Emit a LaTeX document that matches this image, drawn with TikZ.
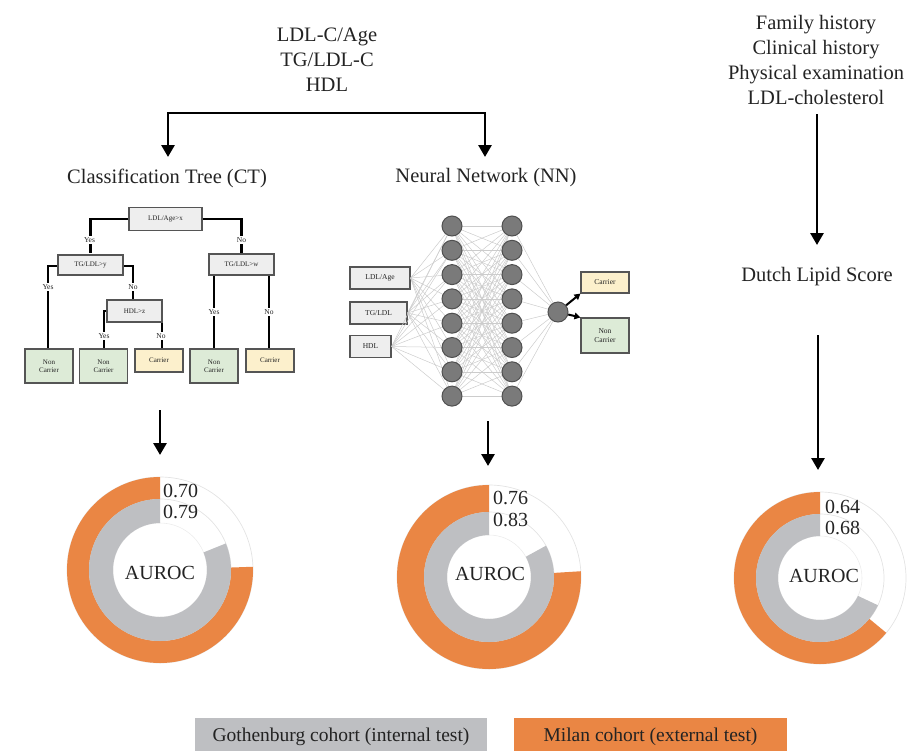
\documentclass[tikz,border=0pt]{standalone}
\usepackage{fontspec}
\setmainfont{Liberation Serif}
\usetikzlibrary{arrows.meta}
\definecolor{orng}{RGB}{234,134,68}
\definecolor{ringgray}{RGB}{190,191,194}
\definecolor{leafgreen}{RGB}{221,235,215}
\definecolor{leafyellow}{RGB}{252,240,204}
\definecolor{boxgray}{RGB}{238,238,238}
\definecolor{edgegray}{RGB}{85,85,85}
\definecolor{nodegray}{RGB}{122,122,122}
\definecolor{nodeedge}{RGB}{80,80,80}
\definecolor{txt}{RGB}{35,35,35}
\newcommand\ringseg[7]{%
  \fill[#7] ({#1+#4*cos(#5)},{#2+#4*sin(#5)}) arc[start angle=#5,end angle=#6,radius=#4]
    -- ({#1+#3*cos(#6)},{#2+#3*sin(#6)}) arc[start angle=#6,end angle=#5,radius=#3] -- cycle;}
\newcommand\mydonut[7]{% cx cy R rg ri orange-end gray-end
  \draw[gray!22, line width=0.7pt] (#1,#2) circle[radius=#3];
  \draw[gray!22, line width=0.7pt] (#1,#2) circle[radius=#4];
  \draw[gray!15, line width=0.6pt] (#1,#2) circle[radius=#5];
  \ringseg{#1}{#2}{#4}{#3}{90}{#6}{orng}
  \ringseg{#1}{#2}{#5}{#4}{90}{#7}{ringgray}}
\begin{document}
\begin{tikzpicture}[x=1pt,y=1pt,
  bigtxt/.style={font=\fontsize{20.5}{25}\selectfont, text=txt, align=center, inner sep=0pt},
  flowarr/.style={line width=2.8pt, line join=miter, -{Triangle[length=12pt,width=13pt]}},
  treebox/.style={draw=edgegray, line width=1.1pt, fill=boxgray, text=txt,
     font=\fontsize{7}{8}\selectfont, inner sep=0pt},
  leafg/.style={treebox, fill=leafgreen, align=center, minimum width=48pt, minimum height=34pt},
  leafy/.style={treebox, fill=leafyellow, minimum width=48pt, minimum height=23pt},
  tline/.style={line width=2.4pt, black},
  lab/.style={fill=white, text=txt, font=\fontsize{7.5}{8}\selectfont, inner sep=1.2pt},
  nnin/.style={treebox, font=\fontsize{7.5}{8}\selectfont, minimum height=22pt},
  nncirc/.style={circle, draw=nodeedge, line width=1pt, fill=nodegray, minimum size=20pt, inner sep=0pt},
  nnline/.style={gray!40, line width=0.5pt},
  nnarr/.style={line width=2pt, -{Triangle[length=6pt,width=6.5pt]}},
  dnum/.style={font=\fontsize{20}{22}\selectfont, text=txt, inner sep=0pt, anchor=west},
  auroc/.style={font=\fontsize{20}{22}\selectfont, text=txt, inner sep=0pt},
  legbox/.style={font=\fontsize{19.5}{22}\selectfont, text=txt, inner sep=0pt, minimum height=38pt}
]
\useasboundingbox (0,0) rectangle (907,-750);

% ---------- top inputs ----------
\node[bigtxt] (inputs) at (327,-60) {LDL-C/Age\\TG/LDL-C\\HDL};
\node[bigtxt] (cttitle) at (167,-178) {Classification Tree (CT)};
\node[bigtxt] (nntitle) at (486,-178) {Neural Network (NN)};
\coordinate (bar) at (327,-113);
\coordinate (ctin) at (168,-157);
\coordinate (nnin) at (485,-157);
\draw[flowarr] (bar) -| (ctin);
\draw[flowarr] (bar) -| (nnin);

% ---------- right column ----------
\node[bigtxt] (clin) at (816,-60) {Family history\\Clinical history\\Physical examination\\LDL-cholesterol};
\node[bigtxt] (dls) at (817,-277) {Dutch Lipid Score};
\coordinate (dlsa) at (817,-114);
\coordinate (dlsb) at (817,-245);
\draw[flowarr] (dlsa) -- (dlsb);
\coordinate (dlsc) at (818,-335);
\coordinate (dlsd) at (818,-470);
\draw[flowarr] (dlsc) -- (dlsd);

% ---------- classification tree ----------
\coordinate (p1) at (90.5,-253);
\coordinate (p2) at (241.5,-253);
\draw[tline] (165.5,-219) -| (p1);
\draw[tline] (165.5,-219) -| (p2);
\draw[tline] (90.5,-266) -| (48,-349);
\draw[tline] (90.5,-266) -| (133,-300);
\draw[tline] (134.5,-311) -| (104,-349);
\draw[tline] (134.5,-311) -| (162,-349);
\draw[tline] (214,-275) -- (214,-349);
\draw[tline] (269,-275) -- (269,-349);

\node[treebox, minimum width=73pt, minimum height=23pt] (root) at (165.5,-219) {LDL/Age>x};
\node[treebox, minimum width=65pt, minimum height=20pt] (tg1) at (90.5,-265) {TG/LDL>y};
\node[treebox, minimum width=55pt, minimum height=22pt] (hdl) at (134.5,-311) {HDL>z};
\node[treebox, minimum width=65pt, minimum height=21pt] (tg2) at (241.5,-264.5) {TG/LDL>w};
\node[leafg] (leaf1) at (49,-366) {Non\\Carrier};
\node[leafg] (leaf2) at (103.5,-366) {Non\\Carrier};
\node[leafy] (leaf3) at (159,-360.5) {Carrier};
\node[leafg] (leaf4) at (214,-366) {Non\\Carrier};
\node[leafy] (leaf5) at (270,-360.5) {Carrier};

\node[lab] at (89.5,-240) {Yes};
\node[lab] at (241.5,-240) {No};
\node[lab] at (48,-287) {Yes};
\node[lab] at (133,-287) {No};
\node[lab] at (104,-336) {Yes};
\node[lab] at (161,-336) {No};
\node[lab] at (214,-312) {Yes};
\node[lab] at (269,-312) {No};

% ---------- neural network ----------
\node[nnin, minimum width=60pt] (in1) at (380,-278) {LDL/Age};
\node[nnin, minimum width=57pt] (in2) at (378.5,-313) {TG/LDL};
\node[nnin, minimum width=41pt] (in3) at (370.5,-346.5) {HDL};
\foreach \i in {1,...,8} {
  \coordinate (ha\i) at (452,{-226-24.3*(\i-1)});
  \coordinate (hb\i) at (512,{-226-24.3*(\i-1)});
}
\coordinate (outc) at (558,-312);
\foreach \i in {1,...,8} {
  \draw[nnline] (in1.east) -- (ha\i);
  \draw[nnline] (in2.east) -- (ha\i);
  \draw[nnline] (in3.east) -- (ha\i);
  \draw[nnline] (hb\i) -- (outc);
  \foreach \j in {1,...,8} { \draw[nnline] (ha\i) -- (hb\j); }
}
\foreach \i in {1,...,8} {
  \node[nncirc] (h1-\i) at (ha\i) {};
  \node[nncirc] (h2-\i) at (hb\i) {};
}
\node[nncirc] (out) at (outc) {};
\node[leafy, font=\fontsize{7.5}{8.5}\selectfont, minimum height=21pt] (carr) at (605,-282.5) {Carrier};
\node[leafg, font=\fontsize{7.5}{8.5}\selectfont, minimum height=35pt] (ncarr) at (605,-335.5) {Non\\Carrier};
\draw[nnarr] (out) -- (carr.south west);
\draw[nnarr] (out) -- (ncarr.north west);

% ---------- arrows to donuts ----------
\coordinate (cta) at (160,-410);
\coordinate (ctb) at (160,-455);
\draw[flowarr] (cta) -- (ctb);
\coordinate (nna) at (488,-421);
\coordinate (nnb) at (488,-466);
\draw[flowarr] (nna) -- (nnb);

% ---------- donuts ----------
\mydonut{160}{-570}{93}{71}{47}{362}{382}
\node[dnum] at (163,-491) {0.70};
\node[dnum] at (163,-512) {0.79};
\node[auroc] at (160,-573) {AUROC};

\mydonut{489}{-577}{92}{65}{42}{363.6}{388.8}
\node[dnum] at (493,-498) {0.76};
\node[dnum] at (493,-520) {0.83};
\node[auroc] at (490,-574) {AUROC};

\mydonut{820}{-578}{86}{64}{42}{320.4}{334.8}
\node[dnum] at (825,-507) {0.64};
\node[dnum] at (825,-528) {0.68};
\node[auroc] at (824,-576) {AUROC};

% ---------- legend ----------
\node[legbox, fill=ringgray, minimum width=292pt] (leg1) at (341,-737) {Gothenburg cohort (internal test)};
\node[legbox, fill=orng, minimum width=273pt] (leg2) at (650.5,-737) {Milan cohort (external test)};
\end{tikzpicture}
\end{document}
